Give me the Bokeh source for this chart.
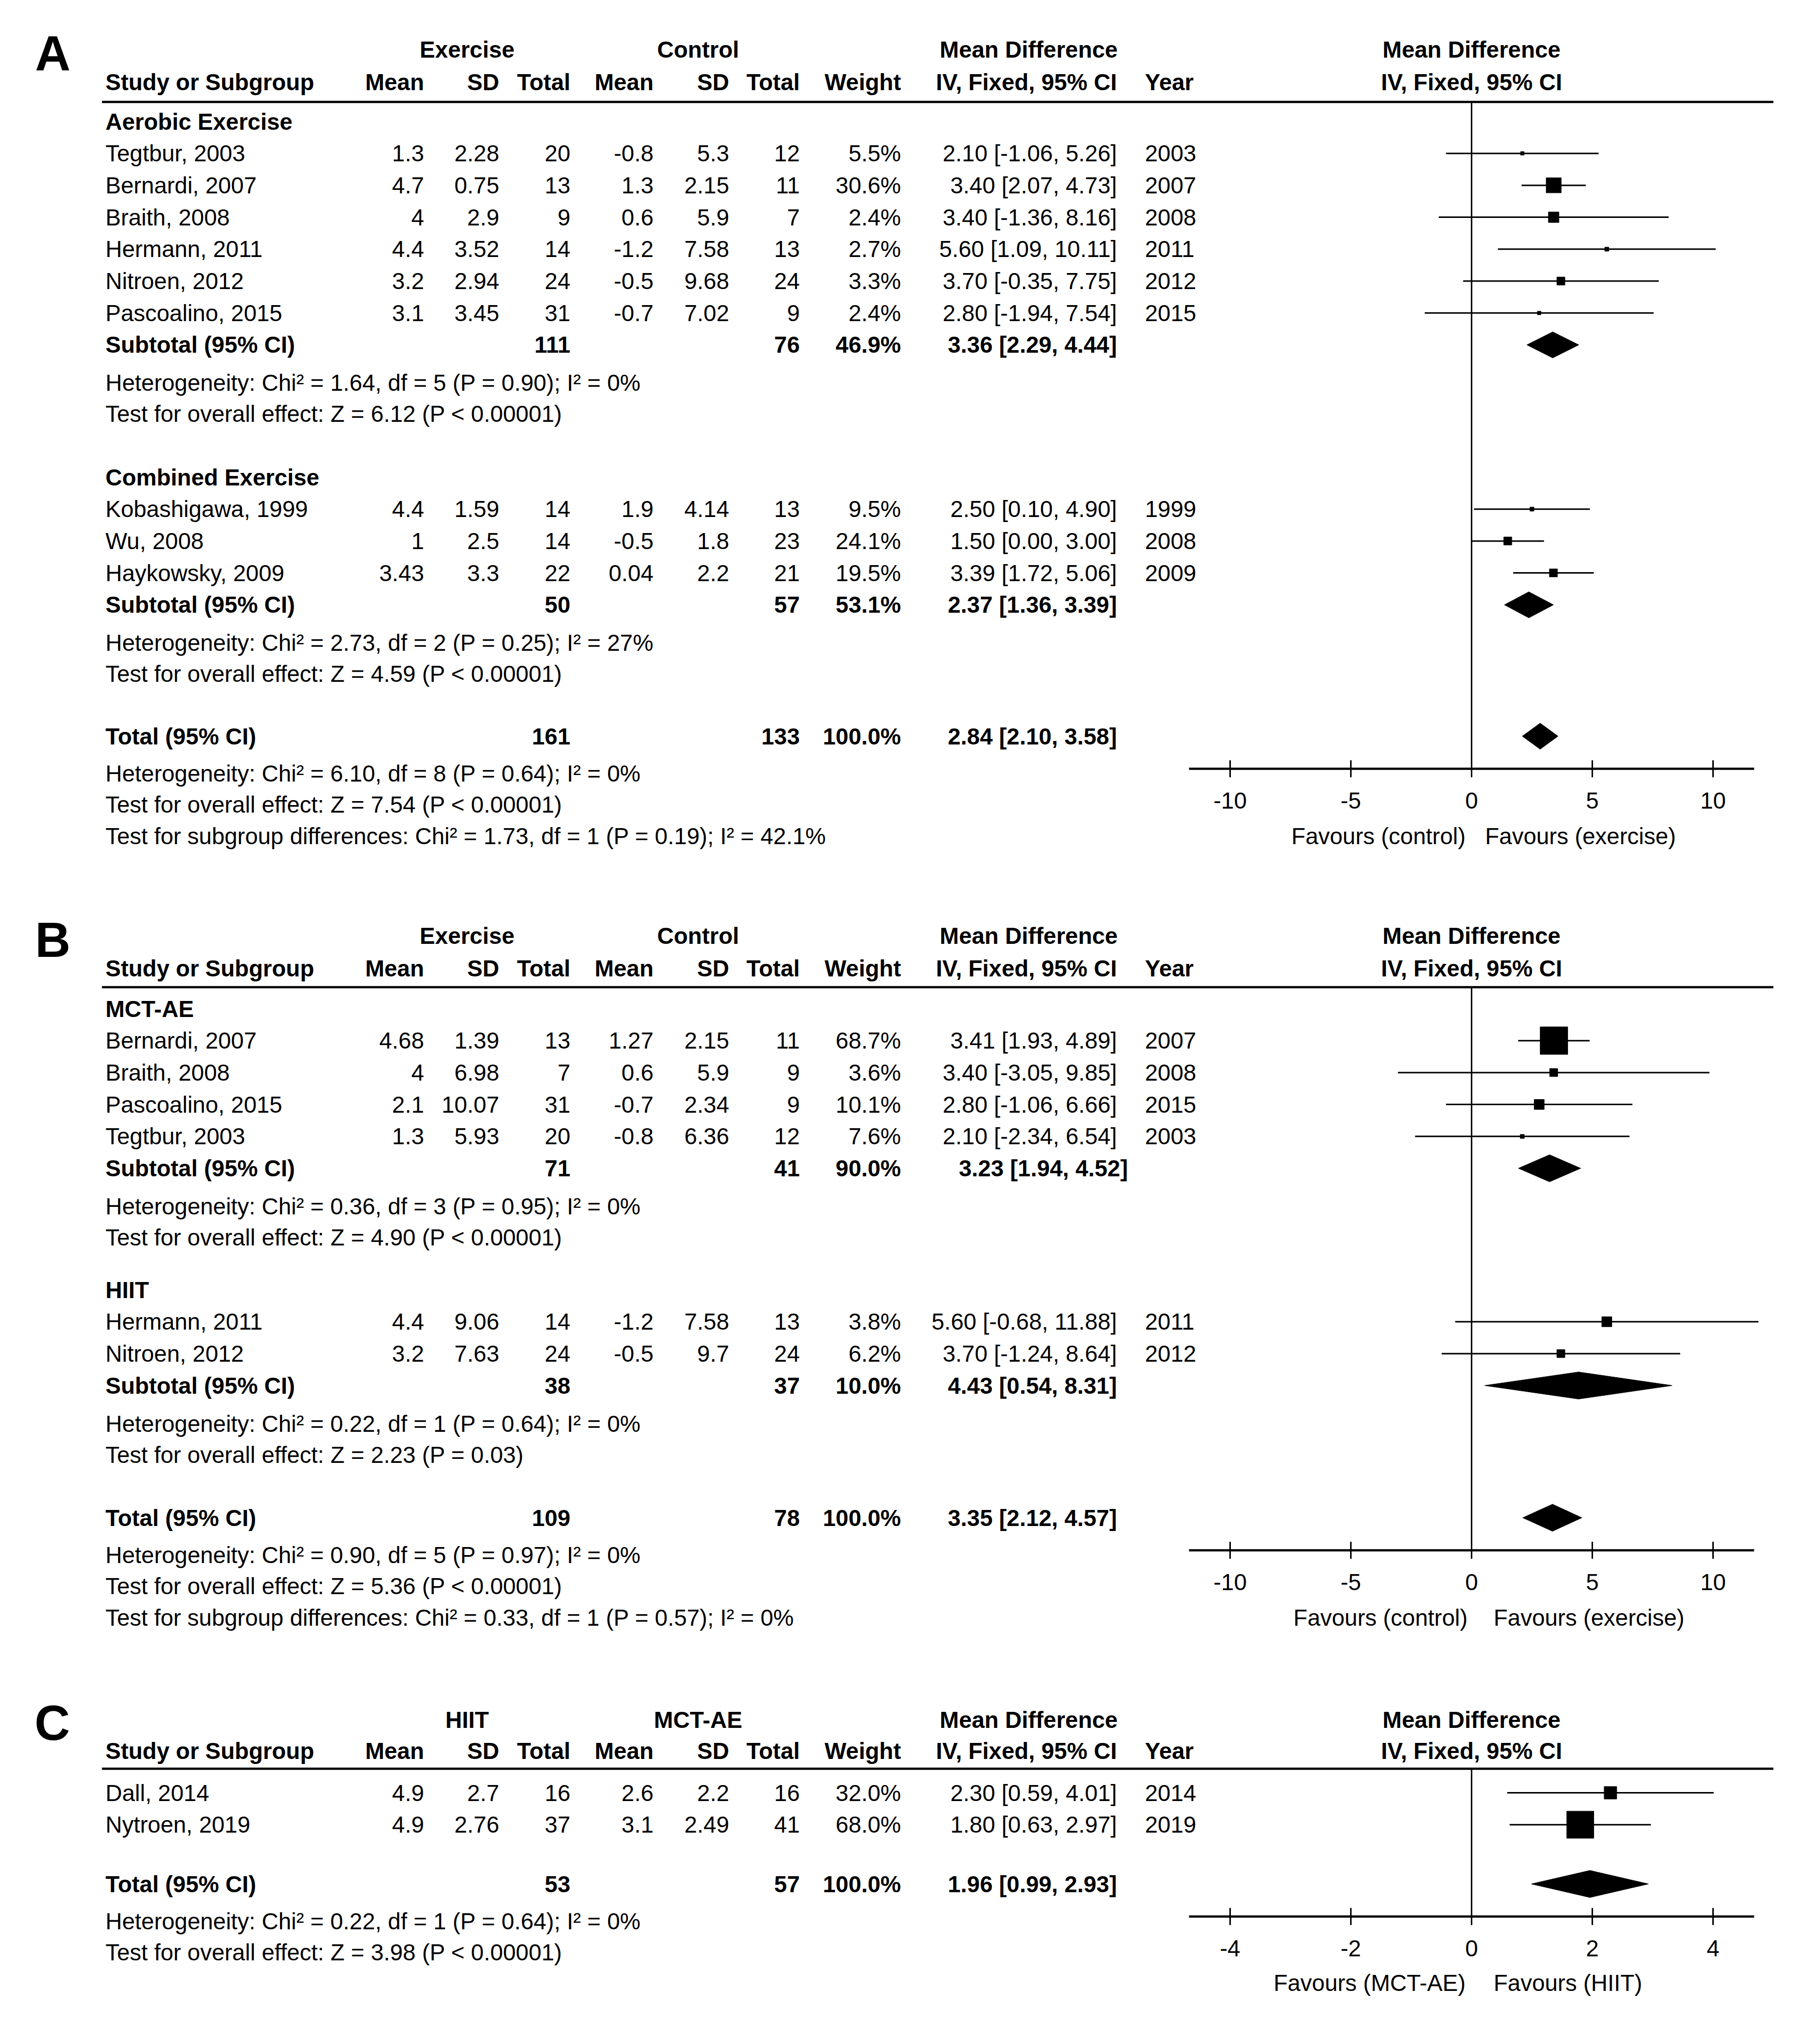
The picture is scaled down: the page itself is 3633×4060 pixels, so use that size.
from bokeh.plotting import figure
from bokeh.models import (Range1d, LinearAxis, FixedTicker, ColumnDataSource,
                          CustomJSTickFormatter)
from bokeh.layouts import column
from bokeh.core.properties import value
from bokeh.embed import file_html
from bokeh.resources import INLINE

FONT = "Liberation Sans"
LETTER_FONT = "Liberation Sans"
FS = "46px"

# ======================= Panel A data =======================
A_arms = ["Exercise", "Control"]
A_subgroups = ["Aerobic Exercise", "Combined Exercise"]
A_study = ["Tegtbur, 2003", "Bernardi, 2007", "Braith, 2008", "Hermann, 2011",
           "Nitroen, 2012", "Pascoalino, 2015", "Kobashigawa, 1999", "Wu, 2008",
           "Haykowsky, 2009"]
A_subgroup_of = [0, 0, 0, 0, 0, 0, 1, 1, 1]
A_ex_mean = [1.3, 4.7, 4, 4.4, 3.2, 3.1, 4.4, 1, 3.43]
A_ex_sd = [2.28, 0.75, 2.9, 3.52, 2.94, 3.45, 1.59, 2.5, 3.3]
A_ex_n = [20, 13, 9, 14, 24, 31, 14, 14, 22]
A_ct_mean = [-0.8, 1.3, 0.6, -1.2, -0.5, -0.7, 1.9, -0.5, 0.04]
A_ct_sd = [5.3, 2.15, 5.9, 7.58, 9.68, 7.02, 4.14, 1.8, 2.2]
A_ct_n = [12, 11, 7, 13, 24, 9, 13, 23, 21]
A_weight = [5.5, 30.6, 2.4, 2.7, 3.3, 2.4, 9.5, 24.1, 19.5]
A_md = [2.10, 3.40, 3.40, 5.60, 3.70, 2.80, 2.50, 1.50, 3.39]
A_lo = [-1.06, 2.07, -1.36, 1.09, -0.35, -1.94, 0.10, 0.00, 1.72]
A_hi = [5.26, 4.73, 8.16, 10.11, 7.75, 7.54, 4.90, 3.00, 5.06]
A_year = [2003, 2007, 2008, 2011, 2012, 2015, 1999, 2008, 2009]
A_sub_ex_n = [111, 50]
A_sub_ct_n = [76, 57]
A_sub_weight = [46.9, 53.1]
A_sub_md = [3.36, 2.37]
A_sub_lo = [2.29, 1.36]
A_sub_hi = [4.44, 3.39]
A_sub_het = ["Heterogeneity: Chi² = 1.64, df = 5 (P = 0.90); I² = 0%",
             "Heterogeneity: Chi² = 2.73, df = 2 (P = 0.25); I² = 27%"]
A_sub_z = ["Test for overall effect: Z = 6.12 (P < 0.00001)",
           "Test for overall effect: Z = 4.59 (P < 0.00001)"]
A_total_n = [161, 133]
A_total_weight = 100.0
A_total_md = [2.84, 2.10, 3.58]
A_notes = ["Heterogeneity: Chi² = 6.10, df = 8 (P = 0.64); I² = 0%",
           "Test for overall effect: Z = 7.54 (P < 0.00001)",
           "Test for subgroup differences: Chi² = 1.73, df = 1 (P = 0.19); I² = 42.1%"]
A_ticks = [-10, -5, 0, 5, 10]
A_favours = ["Favours (control)", "Favours (exercise)"]

# ======================= Panel B data =======================
B_arms = ["Exercise", "Control"]
B_subgroups = ["MCT-AE", "HIIT"]
B_study = ["Bernardi, 2007", "Braith, 2008", "Pascoalino, 2015", "Tegtbur, 2003",
           "Hermann, 2011", "Nitroen, 2012"]
B_subgroup_of = [0, 0, 0, 0, 1, 1]
B_ex_mean = [4.68, 4, 2.1, 1.3, 4.4, 3.2]
B_ex_sd = [1.39, 6.98, 10.07, 5.93, 9.06, 7.63]
B_ex_n = [13, 7, 31, 20, 14, 24]
B_ct_mean = [1.27, 0.6, -0.7, -0.8, -1.2, -0.5]
B_ct_sd = [2.15, 5.9, 2.34, 6.36, 7.58, 9.7]
B_ct_n = [11, 9, 9, 12, 13, 24]
B_weight = [68.7, 3.6, 10.1, 7.6, 3.8, 6.2]
B_md = [3.41, 3.40, 2.80, 2.10, 5.60, 3.70]
B_lo = [1.93, -3.05, -1.06, -2.34, -0.68, -1.24]
B_hi = [4.89, 9.85, 6.66, 6.54, 11.88, 8.64]
B_year = [2007, 2008, 2015, 2003, 2011, 2012]
B_sub_ex_n = [71, 38]
B_sub_ct_n = [41, 37]
B_sub_weight = [90.0, 10.0]
B_sub_md = [3.23, 4.43]
B_sub_lo = [1.94, 0.54]
B_sub_hi = [4.52, 8.31]
B_sub_het = ["Heterogeneity: Chi² = 0.36, df = 3 (P = 0.95); I² = 0%",
             "Heterogeneity: Chi² = 0.22, df = 1 (P = 0.64); I² = 0%"]
B_sub_z = ["Test for overall effect: Z = 4.90 (P < 0.00001)",
           "Test for overall effect: Z = 2.23 (P = 0.03)"]
B_total_n = [109, 78]
B_total_weight = 100.0
B_total_md = [3.35, 2.12, 4.57]
B_notes = ["Heterogeneity: Chi² = 0.90, df = 5 (P = 0.97); I² = 0%",
           "Test for overall effect: Z = 5.36 (P < 0.00001)",
           "Test for subgroup differences: Chi² = 0.33, df = 1 (P = 0.57); I² = 0%"]
B_ticks = [-10, -5, 0, 5, 10]
B_favours = ["Favours (control)", "Favours (exercise)"]

# ======================= Panel C data =======================
C_arms = ["HIIT", "MCT-AE"]
C_study = ["Dall, 2014", "Nytroen, 2019"]
C_ex_mean = [4.9, 4.9]
C_ex_sd = [2.7, 2.76]
C_ex_n = [16, 37]
C_ct_mean = [2.6, 3.1]
C_ct_sd = [2.2, 2.49]
C_ct_n = [16, 41]
C_weight = [32.0, 68.0]
C_md = [2.30, 1.80]
C_lo = [0.59, 0.63]
C_hi = [4.01, 2.97]
C_year = [2014, 2019]
C_total_n = [53, 57]
C_total_weight = 100.0
C_total_md = [1.96, 0.99, 2.93]
C_notes = ["Heterogeneity: Chi² = 0.22, df = 1 (P = 0.64); I² = 0%",
           "Test for overall effect: Z = 3.98 (P < 0.00001)"]
C_ticks = [-4, -2, 0, 2, 4]
C_favours = ["Favours (MCT-AE)", "Favours (HIIT)"]

# ======================= styling / layout =======================
A_box_px = [7, 30, 21, 8, 16, 7, 8, 16, 16]
B_box_px = [55, 16, 20, 8, 20, 16]
C_box_px = [25, 54]

X_LEFT, X_RIGHT = 8, 3548      # page-pixel extent of each panel figure
X_ZERO = 2945                  # page x of the zero line
X_NAME, X_EXM, X_EXSD, X_EXN = 218, 854, 1004, 1146
X_CTM, X_CTSD, X_CTN, X_W, X_CI, X_YEAR = 1312, 1463, 1604, 1806, 2237, 2293
X_ARM1, X_ARM2, X_MDHEAD = 940, 1401, 2061
PITCH = 63.7


def fmt(v):
    return f"{v:g}"


def ci_txt(m, lo, hi):
    return f"{m:.2f} [{lo:.2f}, {hi:.2f}]"


def draw_texts(p, items, font=FONT, size=FS, **kw):
    groups = {}
    for x, y, s, align, bold in items:
        groups.setdefault((align, bold), []).append((x, y, s))
    for (align, bold), L in groups.items():
        src = ColumnDataSource(dict(x=[a[0] for a in L], y=[a[1] for a in L],
                                    text=[a[2] for a in L]))
        p.text(x="x", y="y", text="text", source=src, text_align=align,
               text_baseline="middle", text_font=value(font),
               text_font_size=value(size),
               text_font_style="bold" if bold else "normal",
               text_color="black", **kw)


def build_panel(letter, arms, study, ex_mean, ex_sd, ex_n, ct_mean, ct_sd, ct_n,
                weight, md, lo, hi, year, box_px, total_n, total_w, total_md,
                notes, ticks, favours, lay, subgroups=None, subgroup_of=None,
                sub=None):
    y_top, y_bot = lay["y_top"], lay["y_bot"]
    T = []
    studies_y = [None] * len(study)
    sub_rows = []
    if subgroups:
        for g, hy in enumerate(lay["heading_y"]):
            T.append((X_NAME, hy, subgroups[g], "left", True))
            idx = [i for i, s in enumerate(subgroup_of) if s == g]
            for k, i in enumerate(idx):
                studies_y[i] = hy + PITCH * (k + 1)
            sy = hy + PITCH * (len(idx) + 1)
            sub_rows.append(sy)
            T.append((X_NAME, sy, "Subtotal (95% CI)", "left", True))
            T.append((X_EXN, sy, str(sub["ex_n"][g]), "right", True))
            T.append((X_CTN, sy, str(sub["ct_n"][g]), "right", True))
            T.append((X_W, sy, f"{sub['w'][g]:.1f}%", "right", True))
            T.append((X_CI + lay["sub_ci_dx"][g], sy,
                      ci_txt(sub["md"][g], sub["lo"][g], sub["hi"][g]), "right", True))
            T.append((X_NAME, sy + 76, sub["het"][g], "left", False))
            T.append((X_NAME, sy + 138, sub["z"][g], "left", False))
    else:
        for k in range(len(study)):
            studies_y[k] = lay["first_y"] + PITCH * k

    for i, y in enumerate(studies_y):
        T += [(X_NAME, y, study[i], "left", False),
              (X_EXM, y, fmt(ex_mean[i]), "right", False),
              (X_EXSD, y, fmt(ex_sd[i]), "right", False),
              (X_EXN, y, str(ex_n[i]), "right", False),
              (X_CTM, y, fmt(ct_mean[i]), "right", False),
              (X_CTSD, y, fmt(ct_sd[i]), "right", False),
              (X_CTN, y, str(ct_n[i]), "right", False),
              (X_W, y, f"{weight[i]:.1f}%", "right", False),
              (X_CI, y, ci_txt(md[i], lo[i], hi[i]), "right", False),
              (X_YEAR, y, str(year[i]), "left", False)]

    ty = lay["total_y"]
    T += [(X_NAME, ty, "Total (95% CI)", "left", True),
          (X_EXN, ty, str(total_n[0]), "right", True),
          (X_CTN, ty, str(total_n[1]), "right", True),
          (X_W, ty, f"{total_w:.1f}%", "right", True),
          (X_CI, ty, ci_txt(*total_md), "right", True)]
    note_dy = [74, 136, 199]
    for k, s in enumerate(notes):
        T.append((X_NAME, ty + note_dy[k], s, "left", False))

    gy, cy, ly = lay["grp_y"], lay["col_y"], lay["line_y"]
    T += [(X_ARM1, gy, arms[0], "center", True), (X_ARM2, gy, arms[1], "center", True),
          (X_MDHEAD, gy, "Mean Difference", "center", True),
          (X_NAME, cy, "Study or Subgroup", "left", True),
          (X_EXM, cy, "Mean", "right", True), (X_EXSD, cy, "SD", "right", True),
          (X_EXN, cy, "Total", "right", True), (X_CTM, cy, "Mean", "right", True),
          (X_CTSD, cy, "SD", "right", True), (X_CTN, cy, "Total", "right", True),
          (X_W, cy, "Weight", "right", True),
          (X_CI, cy, "IV, Fixed, 95% CI", "right", True),
          (X_YEAR, cy, "Year", "left", True)]

    # forest scale: mean-difference units mapped onto the same frame
    scale = lay["px_per_unit"]
    md_range = Range1d((X_LEFT - X_ZERO) / scale, (X_RIGHT - X_ZERO) / scale)
    xb = 564 / scale

    H = y_bot - y_top
    dy = lay["dy"]     # vertical nudge of the panel content (page px)
    p = figure(frame_width=X_RIGHT - X_LEFT, frame_height=H,
               x_range=Range1d(X_LEFT, X_RIGHT),
               y_range=Range1d(y_bot - dy, y_top - dy),
               x_axis_type=None, y_axis_type=None, toolbar_location=None,
               output_backend="svg", min_border=0)
    p.extra_x_ranges = {"md": md_range}
    p.outline_line_color = None
    p.background_fill_color = "white"
    p.border_fill_color = "white"

    # header rule across the whole panel
    p.segment(x0=[211], y0=[ly], x1=[X_RIGHT], y1=[ly], line_width=4.5,
              line_color="black")
    draw_texts(p, T)
    draw_texts(p, [(lay["letter_x"], lay["letter_y"], letter, "center", True)],
               font=LETTER_FONT, size="98px")

    axis_y = ty + 65
    ax = LinearAxis(x_range_name="md", bounds=(-xb, xb),
                    ticker=FixedTicker(ticks=ticks), fixed_location=axis_y,
                    formatter=CustomJSTickFormatter(code="return tick.toString()"))
    ax.axis_line_width = 4.5
    ax.axis_line_color = "black"
    ax.major_tick_line_width = 3
    ax.major_tick_line_color = "black"
    ax.major_tick_in = 17
    ax.major_tick_out = 17
    ax.minor_tick_line_color = None
    ax.major_label_text_font = FONT
    ax.major_label_text_font_size = FS
    ax.major_label_text_color = "black"
    ax.major_label_standoff = 30
    p.add_layout(ax, "below")

    p.segment(x0=[0], y0=[ly], x1=[0], y1=[axis_y], line_width=3,
              line_color="black", x_range_name="md")
    p.segment(x0=lo, y0=studies_y, x1=hi, y1=studies_y, line_width=3,
              line_color="black", x_range_name="md")
    p.scatter(x=md, y=studies_y, size=box_px, marker="square",
              fill_color="black", line_color="black", x_range_name="md")

    dxs, dys = [], []
    hh = lay["diamond_half"]
    if subgroups:
        for g, sy in enumerate(sub_rows):
            dxs.append([sub["lo"][g], sub["md"][g], sub["hi"][g], sub["md"][g]])
            dys.append([sy, sy - hh, sy, sy + hh])
    dxs.append([total_md[1], total_md[0], total_md[2], total_md[0]])
    dys.append([ty, ty - hh, ty, ty + hh])
    p.patches(xs=dxs, ys=dys, fill_color="black", line_color="black",
              x_range_name="md")

    draw_texts(p, [(0, gy, "Mean Difference", "center", True),
                   (0, cy, "IV, Fixed, 95% CI", "center", True)],
               x_range_name="md")
    fy = lay["fav_y"]
    draw_texts(p, [(0, fy, favours[0], "right", False)],
               x_offset=lay["fav_dx"][0], x_range_name="md")
    draw_texts(p, [(0, fy, favours[1], "left", False)],
               x_offset=lay["fav_dx"][1], x_range_name="md")
    return p


lay_A = dict(y_top=8, y_bot=1760, dy=10, grp_y=96, col_y=161, line_y=201,
             heading_y=[240, 950], total_y=1467, px_per_unit=48.2,
             diamond_half=26, sub_ci_dx=[0, 0], letter_x=113, letter_y=103,
             fav_y=1666, fav_dx=(-12, 27))
lay_B = dict(y_top=1760, y_bot=3360, dy=13, grp_y=1862, col_y=1927, line_y=1965,
             heading_y=[2008, 2569], total_y=3024, px_per_unit=48.2,
             diamond_half=27, sub_ci_dx=[22, 0], letter_x=113, letter_y=1870,
             fav_y=3223, fav_dx=(-8, 44))
lay_C = dict(y_top=3360, y_bot=4045, dy=20, grp_y=3420, col_y=3482, line_y=3518,
             first_y=3566, total_y=3748, px_per_unit=120.5,
             diamond_half=27, letter_x=112, letter_y=3426,
             fav_y=3945, fav_dx=(-12, 44))

subA = dict(ex_n=A_sub_ex_n, ct_n=A_sub_ct_n, w=A_sub_weight, md=A_sub_md,
            lo=A_sub_lo, hi=A_sub_hi, het=A_sub_het, z=A_sub_z)
subB = dict(ex_n=B_sub_ex_n, ct_n=B_sub_ct_n, w=B_sub_weight, md=B_sub_md,
            lo=B_sub_lo, hi=B_sub_hi, het=B_sub_het, z=B_sub_z)

pA = build_panel("A", A_arms, A_study, A_ex_mean, A_ex_sd, A_ex_n, A_ct_mean,
                 A_ct_sd, A_ct_n, A_weight, A_md, A_lo, A_hi, A_year, A_box_px,
                 A_total_n, A_total_weight, A_total_md, A_notes, A_ticks,
                 A_favours, lay_A, A_subgroups, A_subgroup_of, subA)
pB = build_panel("B", B_arms, B_study, B_ex_mean, B_ex_sd, B_ex_n, B_ct_mean,
                 B_ct_sd, B_ct_n, B_weight, B_md, B_lo, B_hi, B_year, B_box_px,
                 B_total_n, B_total_weight, B_total_md, B_notes, B_ticks,
                 B_favours, lay_B, B_subgroups, B_subgroup_of, subB)
pC = build_panel("C", C_arms, C_study, C_ex_mean, C_ex_sd, C_ex_n, C_ct_mean,
                 C_ct_sd, C_ct_n, C_weight, C_md, C_lo, C_hi, C_year, C_box_px,
                 C_total_n, C_total_weight, C_total_md, C_notes, C_ticks,
                 C_favours, lay_C)

layout = column(pA, pB, pC)
open("out.html", "w").write(file_html(layout, INLINE))
